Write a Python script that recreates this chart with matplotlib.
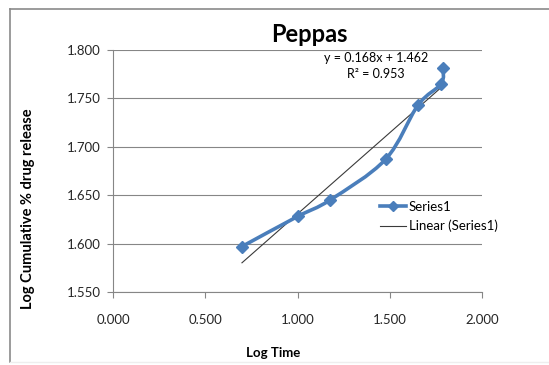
import numpy as np
import matplotlib.pyplot as plt
from matplotlib.path import Path
from matplotlib.patches import PathPatch
from matplotlib.lines import Line2D

plt.rcParams['font.family'] = ['Lato', 'DejaVu Sans']

# data
log_time = [0.699, 1.000, 1.176, 1.477, 1.653, 1.778, 1.789]
log_release = [1.597, 1.628, 1.645, 1.687, 1.743, 1.765, 1.781]
x_ticks = [0.0, 0.5, 1.0, 1.5, 2.0]
y_ticks = [1.55, 1.60, 1.65, 1.70, 1.75, 1.80]

blue = '#4A7EBB'
grey = '#868686'

fig = plt.figure(figsize=(5.49, 3.65), dpi=100)
ax = fig.add_axes([113/549, 1-292/365, (482-113)/549, (292-50)/365])

# chart border: left + top visible, bottom very faint, right cut off
W, H = 549, 365
fig.lines.append(Line2D([10/W, 10/W], [1-8.5/H, 1-362/H], transform=fig.transFigure,
                        color='#8a8a8a', lw=1.2))
fig.lines.append(Line2D([10/W, 1.0], [1-8.5/H, 1-8.5/H], transform=fig.transFigure,
                        color='#8a8a8a', lw=1.2))
fig.lines.append(Line2D([10/W, 1.0], [1-362/H, 1-362/H], transform=fig.transFigure,
                        color='#eeeeee', lw=1.0))

# excel style smoothed line (bezier through points)
pts = np.column_stack([log_time, log_release])
n = len(pts)
verts = [pts[0]]
codes = [Path.MOVETO]
for i in range(n-1):
    p0 = pts[max(i-1, 0)]
    p1 = pts[i]
    p2 = pts[i+1]
    p3 = pts[min(i+2, n-1)]
    verts += [p1 + (p2-p0)/6, p2 - (p3-p1)/6, p2]
    codes += [Path.CURVE4]*3
ax.add_patch(PathPatch(Path(verts, codes), facecolor='none', edgecolor=blue, lw=2.6,
                       capstyle='round', joinstyle='round', zorder=3))
ax.plot(log_time, log_release, linestyle='none', marker='D', ms=6, color=blue, zorder=4)

# linear trend
k, b = np.polyfit(log_time, log_release, 1)
tx = np.array([min(log_time), max(log_time)])
ax.plot(tx, k*tx+b, color='#3a3a3a', lw=0.8, zorder=2)

ax.set_xlim(0, 2)
ax.set_ylim(1.55, 1.80)
ax.set_xticks(x_ticks)
ax.set_yticks(y_ticks)
ax.set_xticklabels(['%.3f' % v for v in x_ticks])
ax.set_yticklabels(['%.3f' % v for v in y_ticks])
ax.grid(True, axis='y', color=grey, lw=0.8)
ax.set_axisbelow(True)
for s in ['top', 'right']:
    ax.spines[s].set_visible(False)
for s in ['left', 'bottom']:
    ax.spines[s].set_color(grey)
    ax.spines[s].set_linewidth(0.8)
ax.tick_params(axis='both', colors=grey, length=4, width=0.8, labelsize=9.5, labelcolor='#262626')
ax.tick_params(axis='x', pad=12)
ax.tick_params(axis='y', pad=5)

fig.text(309/W, 1-35/H, 'Peppas', ha='center', va='center', fontsize=17, fontweight='bold')
fig.text(376/W, 1-58/H, 'y = 0.168x + 1.462', ha='center', va='center', fontsize=9)
fig.text(376/W, 1-74/H, 'R² = 0.953', ha='center', va='center', fontsize=9)
fig.text(273/W, 1-353/H, 'Log Time', ha='center', va='center', fontsize=9.5, fontweight='bold')
fig.text(28/W, 1-209/H, 'Log Cumulative % drug release', ha='center', va='center',
         rotation=90, fontsize=10.5, fontweight='bold')

handles = [Line2D([], [], color=blue, lw=2.6, marker='D', ms=5),
           Line2D([], [], color='#3a3a3a', lw=0.8)]
fig.legend(handles, ['Series1', 'Linear (Series1)'], loc='upper left',
           bbox_to_anchor=(373/W, 1-194/H), frameon=False, fontsize=9.5,
           handlelength=2.0, handletextpad=0.2, labelspacing=0.55, borderpad=0)

fig.savefig('out.png', dpi=100)
